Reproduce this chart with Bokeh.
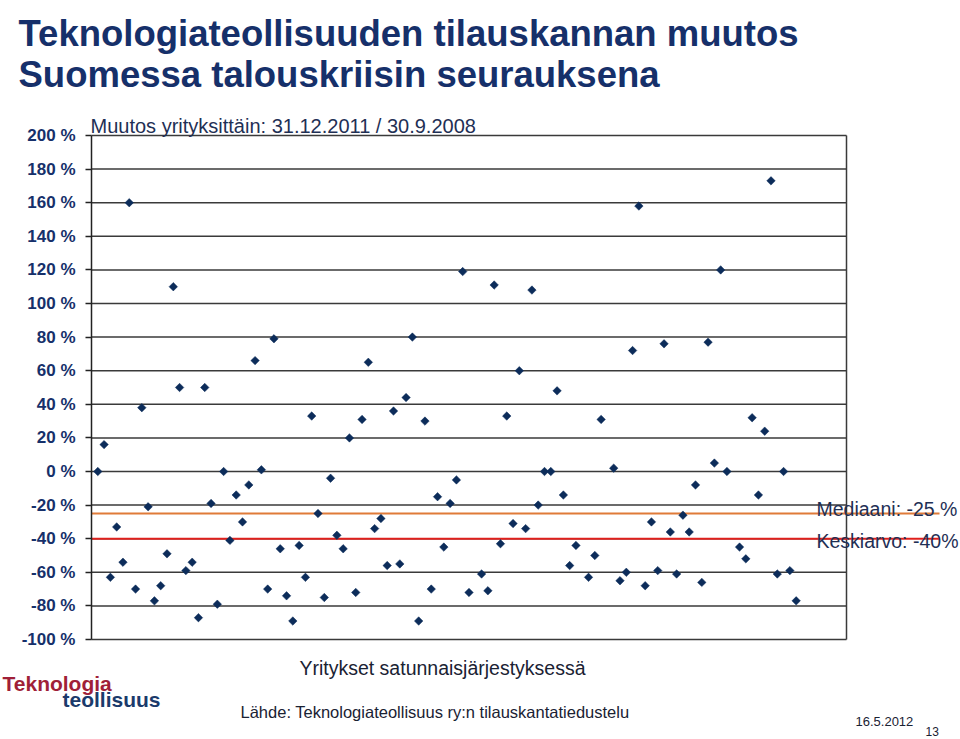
from bokeh.plotting import figure
from bokeh.models import Range1d, FixedTicker, Label, ColumnDataSource, LinearAxis
from bokeh.embed import file_html
from bokeh.resources import INLINE
import math

# ---- data ----
company_pos = [1, 2, 3, 4, 5, 6, 7, 8, 9, 10, 11, 12, 13, 14, 15, 16, 17, 18, 19, 20,
               21, 22, 23, 24, 25, 26, 27, 28, 29, 30, 31, 32, 33, 34, 35, 36, 37, 38, 39, 40,
               41, 42, 43, 44, 45, 46, 47, 48, 49, 50, 51, 52, 53, 54, 55, 56, 57, 58, 59, 60,
               62, 63, 64, 65, 66, 67, 68, 69, 70, 71, 72, 73, 74, 75, 76, 77,
               79, 80, 81, 83, 84, 85, 86, 87, 88, 89, 90, 91, 92, 93, 94, 95, 96, 97, 98, 99,
               100, 101, 103, 104, 105, 106, 107, 108, 109, 110, 111, 112]
change_pct = [0, 16, -63, -33, -54, 160, -70, 38, -21, -77, -68, -49, 110, 50, -59, -54, -87, 50, -19, -79,
              0, -41, -14, -30, -8, 66, 1, -70, 79, -46, -74, -89, -44, -63, 33, -25, -75, -4, -38, -46,
              20, -72, 31, 65, -34, -28, -56, 36, -55, 44, 80, -89, 30, -70, -15, -45, -19, -5, 119, -72,
              -61, -71, 111, -43, 33, -31, 60, -34, 108, -20, 0, 0, 48, -14, -56, -44,
              -63, -50, 31, 2, -65, -60, 72, 158, -68, -30, -59, 76, -36, -61, -26, -36, -8, -66, 77, 5,
              120, 0, -45, -52, 32, -14, 24, 173, -61, 0, -59, -77]
median_pct = -25
mean_pct = -40
y_ticks = [-100, -80, -60, -40, -20, 0, 20, 40, 60, 80, 100, 120, 140, 160, 180, 200]
y_tick_labels = ["%d %%" % t for t in y_ticks]

title_lines = ["Teknologiateollisuuden tilauskannan muutos", "Suomessa talouskriisin seurauksena"]
subtitle = "Muutos yrityksittäin: 31.12.2011 / 30.9.2008"
x_label = "Yritykset satunnaisjärjestyksessä"
source_text = "Lähde: Teknologiateollisuus ry:n tilauskantatiedustelu"
median_label = "Mediaani: -25 %"
mean_label = "Keskiarvo: -40%"
logo_lines = ["Teknologia", "teollisuus"]
date_text = "16.5.2012"
page_no = "13"

NAVY = "#16306a"
TEXT = "#1f3055"
DARK = "#1a2233"
GRID = "#3a3a3a"
X_MAX_AXIS = 120

# pixel geometry of the page: x axis 0..120 spans px 91..846, y -100..200 spans px 639..135
SX = (846 - 91) / 120.0
SY = (639 - 135) / 300.0

def px_x(px):
    return (px - 91) / SX

def px_y(py):
    return (471 - py) / SY

W, H = 960, 739
p = figure(width=W, height=H, output_backend="svg", toolbar_location=None,
           x_range=Range1d(px_x(0), px_x(W)), y_range=Range1d(px_y(H), px_y(0)),
           x_axis_location=None, y_axis_location=None,
           min_border=0, min_border_left=0, min_border_right=0,
           min_border_top=0, min_border_bottom=0)
p.outline_line_color = None
p.xgrid.visible = False
p.ygrid.visible = False
p.background_fill_color = "white"
p.border_fill_color = "white"

ya = LinearAxis(fixed_location=0, bounds=(-100, 200))
ya.ticker = FixedTicker(ticks=y_ticks)
ya.major_label_overrides = {t: l for t, l in zip(y_ticks, y_tick_labels)}
ya.axis_line_color = "#222222"
ya.axis_line_width = 1.5
ya.major_tick_line_color = "#222222"
ya.major_tick_line_width = 1.5
ya.major_tick_out = 6
ya.major_tick_in = 0
ya.minor_tick_line_color = None
ya.major_label_text_font = "Liberation Sans"
ya.major_label_text_font_style = "bold"
ya.major_label_text_font_size = "17px"
ya.major_label_text_color = NAVY
ya.major_label_standoff = 10
p.add_layout(ya, "left")

# grid lines and right border of the plot area
p.segment(x0=[0] * len(y_ticks), x1=[X_MAX_AXIS] * len(y_ticks), y0=y_ticks, y1=y_ticks,
          line_color=GRID, line_width=1.5)
p.segment(x0=[X_MAX_AXIS], x1=[X_MAX_AXIS], y0=[-100], y1=[200], line_color=GRID, line_width=1.5)

# median and mean lines
p.segment(x0=[0], x1=[px_x(939)], y0=[median_pct], y1=[median_pct], line_color="#e07b39", line_width=2)
p.segment(x0=[0], x1=[px_x(939)], y0=[mean_pct], y1=[mean_pct], line_color="#e0201c", line_width=2)

src = ColumnDataSource(dict(x=company_pos, y=change_pct))
p.scatter("x", "y", source=src, marker="square", angle=math.pi / 4, size=6,
          fill_color="#0c2c5a", line_color="#0c2c5a", line_width=0.5)

def add_label(text, x, y, size, color, style="normal", font="Liberation Sans", align="left"):
    p.add_layout(Label(x=px_x(x), y=px_y(y), text=text, text_font=font, text_font_size=size,
                       text_color=color, text_font_style=style, text_align=align,
                       text_baseline="alphabetic"))

add_label(title_lines[0], 18, 33, "36.5px", NAVY, "bold")
add_label(title_lines[1], 18, 74, "36.5px", NAVY, "bold")
add_label(subtitle, 90, 125, "20px", TEXT)
add_label(median_label, 816, 508, "19.5px", TEXT)
add_label(mean_label, 816, 540, "19.5px", TEXT)
add_label(x_label, 442, 667, "19.5px", DARK, align="center")
add_label(source_text, 240, 711, "16.5px", DARK)
add_label(date_text, 855, 721, "13px", DARK)
add_label(page_no, 925, 731, "12px", DARK)
add_label(logo_lines[0], 2, 683, "21px", "#a01f38", "bold")
add_label(logo_lines[1], 62, 699, "21px", "#1b3a6b", "bold")

open("out.html", "w").write(file_html(p, INLINE))
